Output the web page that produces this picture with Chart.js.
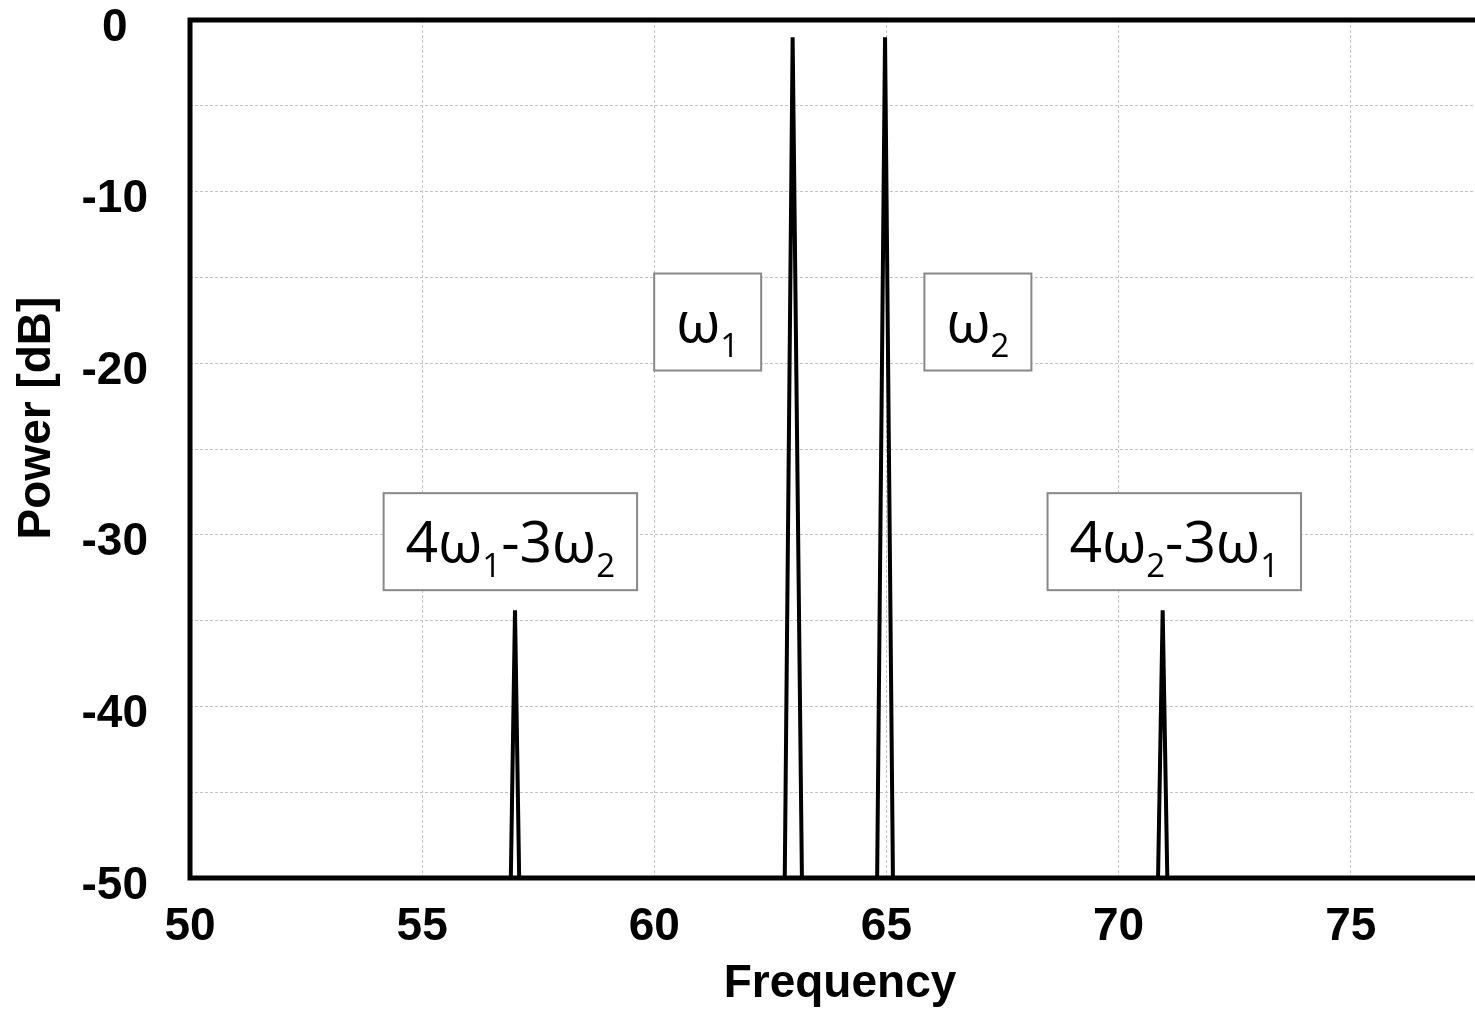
<!DOCTYPE html>
<html>
<head>
<meta charset="utf-8">
<script src="https://cdn.jsdelivr.net/npm/chart.js@4.4.0/dist/chart.umd.min.js"></script>
<style>
  html, body { margin: 0; padding: 0; background: #fff; overflow: hidden; }
  #myChart { display: block; }
</style>
</head>
<body>
<canvas id="myChart" width="1500" height="1012"></canvas>
<script>
//Spectrum points: frequency and power in dB (floor of the plot is -50)
const frequency = [50, 56.91, 57.0, 57.09, 62.81, 62.98, 63.18, 64.80, 64.97, 65.14, 70.85, 70.95, 71.05, 78];
const powerDb   = [-50, -50, -34.4, -50, -50, -1.0, -50, -50, -1.0, -50, -50, -34.4, -50, -50];

//Tick labels shown on each axis
const xTickLabels = [50, 55, 60, 65, 70, 75];
const yTickLabels = [0, -10, -20, -30, -40, -50];

//Boxed labels: text ("_" marks a subscript digit) and where they sit in data units
const labelText  = ['4ω_1-3ω_2', 'ω_1', 'ω_2', '4ω_2-3ω_1'];
const labelFreq  = [56.9, 61.15, 66.97, 71.2];
const labelPower = [-30.4, -17.6, -17.6, -30.4];

const yTitle = 'Power [dB]';

const tickFont = {family: "'Liberation Sans', Arial, sans-serif", size: 46, weight: 'bold'};
const boxFontFamily = "'Open Sans', sans-serif";

//split "4ω_1-3ω_2" into normal and subscript parts
function splitLabel(str)
{
    const parts = [];
    let buf = '';
    for (let i = 0; i < str.length; i++)
    {
        if (str[i] == '_')
        {
            if (buf) parts.push({t: buf, sub: false});
            buf = '';
            parts.push({t: str[i + 1], sub: true});
            i++;
        }
        else
        {
            buf += str[i];
        }
    }
    if (buf) parts.push({t: buf, sub: false});
    return parts;
}

//Draws the black frame around the plot area and the y title (sits a bit above centre)
const frame = {
    id: 'frame',
    afterDatasetsDraw(chart) {
        const a = chart.chartArea;
        const ctx = chart.ctx;
        ctx.save();
        ctx.strokeStyle = '#000';
        ctx.lineWidth = 5;
        ctx.strokeRect(a.left, a.top, a.right - a.left, a.bottom - a.top);

        ctx.translate(37, (a.top + a.bottom) / 2 - 31);
        ctx.rotate(-Math.PI / 2);
        ctx.font = 'bold 46px ' + tickFont.family;
        ctx.fillStyle = '#000';
        ctx.textAlign = 'center';
        ctx.textBaseline = 'middle';
        ctx.fillText(yTitle, 0, 0);
        ctx.restore();
    }
};

//Draws the boxed labels at their data positions
const boxes = {
    id: 'boxes',
    afterDraw(chart) {
        const ctx = chart.ctx;
        const xs = chart.scales.x;
        const ys = chart.scales.y;
        ctx.save();
        for (let i = 0; i < labelText.length; i++)
        {
            const parts = splitLabel(labelText[i]);
            let w = 0;
            parts.forEach(p => {
                ctx.font = (p.sub ? 33 : 57) + 'px ' + boxFontFamily;
                p.w = ctx.measureText(p.t).width;
                w += p.w;
            });
            const cx = xs.getPixelForValue(labelFreq[i]);
            const cy = ys.getPixelForValue(labelPower[i]);
            const bw = w + 44;
            const bh = 97;
            ctx.fillStyle = '#fff';
            ctx.fillRect(cx - bw / 2, cy - bh / 2, bw, bh);
            ctx.strokeStyle = '#888';
            ctx.lineWidth = 2;
            ctx.strokeRect(cx - bw / 2, cy - bh / 2, bw, bh);

            ctx.fillStyle = '#000';
            ctx.textAlign = 'left';
            ctx.textBaseline = 'alphabetic';
            let x = cx - w / 2;
            const base = cy + 20;
            parts.forEach(p => {
                ctx.font = (p.sub ? 33 : 57) + 'px ' + boxFontFamily;
                ctx.fillText(p.t, x, p.sub ? base + 15 : base);
                x += p.w;
            });
        }
        ctx.restore();
    }
};

const ctx = document.getElementById('myChart').getContext('2d');

const myChart = new Chart(ctx, {
    type: 'line',
    data: {
        datasets: [{
            data: frequency.map((f, i) => ({x: f, y: powerDb[i]})),
            borderColor: '#000',
            borderWidth: 4,
            pointRadius: 0,
            tension: 0,
            fill: false
        }]
    },
    options: {
        responsive: false,
        animation: false,
        layout: {
            padding: {top: 20, right: 10, left: 0, bottom: 0}
        },
        plugins: {
            legend: {display: false},
            tooltip: {enabled: false}
        },
        scales: {
            x: {
                type: 'linear',
                min: 50,
                max: 78,
                afterFit(scale) {
                    scale.height = 134;
                    scale.paddingLeft = 0;
                    scale.paddingRight = 0;
                },
                border: {display: false, dash: [3, 2]},
                grid: {color: '#c4c4c4', lineWidth: 1, drawTicks: false},
                ticks: {
                    stepSize: 5,
                    includeBounds: false,
                    padding: 22,
                    maxRotation: 0,
                    color: '#000',
                    font: tickFont,
                    callback: v => xTickLabels.includes(v) ? String(v) : ''
                },
                title: {
                    display: true,
                    text: 'Frequency',
                    color: '#000',
                    font: tickFont,
                    padding: {top: 0, bottom: 0}
                }
            },
            y: {
                type: 'linear',
                min: -50,
                max: 0,
                afterFit(scale) {
                    scale.width = 190;
                    scale.paddingTop = 0;
                    scale.paddingBottom = 0;
                },
                border: {display: false, dash: [3, 2]},
                grid: {color: '#c4c4c4', lineWidth: 1, drawTicks: false},
                ticks: {
                    stepSize: 5,
                    padding: 42,
                    crossAlign: 'center',
                    labelOffset: 8,
                    color: '#000',
                    font: tickFont,
                    callback: v => yTickLabels.includes(v) ? String(v) : ''
                }
            }
        }
    },
    plugins: [frame, boxes]
});
</script>
</body>
</html>
